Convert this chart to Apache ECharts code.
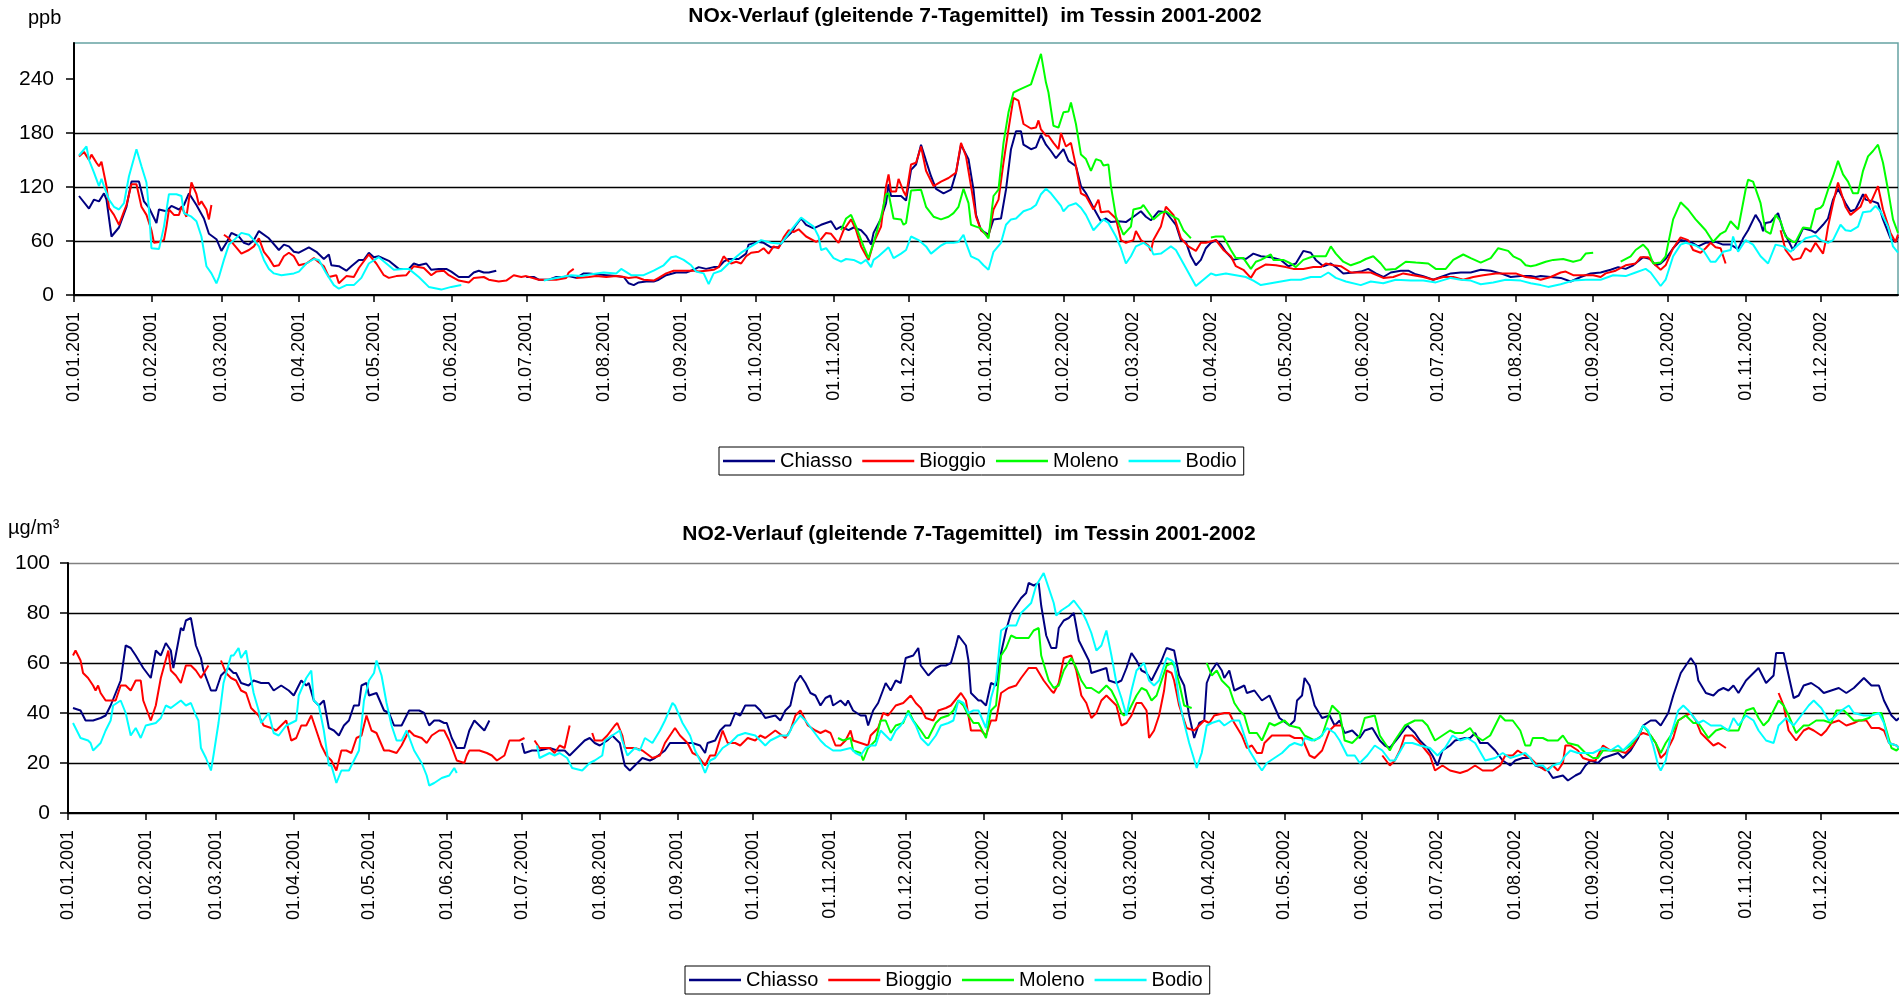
<!DOCTYPE html>
<html>
<head>
<meta charset="utf-8">
<title>NOx / NO2 Tessin 2001-2002</title>
<script src="https://cdn.jsdelivr.net/npm/echarts@6/dist/echarts.min.js"></script>
<style>
  html, body { margin: 0; padding: 0; background: #fff; }
  #chart { width: 1899px; height: 996px; }
</style>
</head>
<body>
<div id="chart"></div>
<script>
const stations = ['Chiasso', 'Bioggio', 'Moleno', 'Bodio'];
const stationColors = ['#000080', '#ff0000', '#00ff00', '#00ffff'];

// [day since 01.01.2001, value]; value null = gap in the record
const noxChiasso = [[2,110],[6,96],[8,106],[10,104],[12,113],[13,106],[15,65],[18,75],[21,98],[23,126],[26,126],[28,104],[30,97],[33,80],[34,95],[37,93],[39,99],[42,95],[44,100],[46,113],[49,100],[52,85],[54,68],[57,62],[59,49],[61,58],[63,69],[66,65],[68,58],[70,56],[72,61],[74,71],[78,63],[82,50],[84,56],[86,54],[88,48],[90,47],[94,53],[97,48],[100,40],[102,45],[103,33],[106,32],[109,27],[111,32],[114,39],[116,39],[118,47],[120,42],[122,43],[126,38],[130,29],[134,29],[136,35],[138,33],[141,35],[143,28],[146,29],[149,29],[151,26],[154,20],[158,20],[160,25],[162,27],[164,25],[166,25],[169,27],[175,null],[181,20],[184,20],[186,17],[190,17],[193,20],[196,20],[198,21],[201,19],[204,24],[206,24],[209,23],[213,22],[217,21],[220,20],[222,13],[224,11],[226,14],[229,15],[232,15],[234,17],[237,22],[241,25],[245,25],[248,28],[250,31],[253,29],[256,31],[258,31],[260,37],[262,40],[266,40],[269,46],[270,56],[274,59],[276,58],[279,53],[282,53],[284,61],[287,69],[289,78],[291,85],[293,78],[296,74],[299,78],[303,82],[305,73],[307,76],[310,72],[312,75],[315,72],[317,66],[319,56],[320,69],[323,85],[325,102],[326,123],[327,110],[331,110],[333,105],[335,139],[337,145],[339,167],[341,149],[343,132],[345,118],[348,113],[351,117],[353,136],[355,167],[358,151],[360,117],[361,89],[363,72],[366,67],[368,84],[371,85],[373,117],[375,162],[377,182],[379,182],[380,167],[383,162],[385,164],[387,178],[389,167],[391,160],[393,152],[396,162],[398,149],[401,143],[403,121],[405,113],[408,97],[411,82],[413,85],[415,81],[418,82],[421,81],[424,87],[427,93],[429,87],[431,83],[434,93],[437,92],[439,85],[441,78],[443,61],[445,59],[447,43],[449,33],[451,39],[453,52],[455,58],[457,61],[459,56],[461,48],[464,39],[467,41],[469,40],[472,46],[475,43],[479,42],[483,39],[486,32],[489,35],[492,49],[495,47],[497,39],[500,32],[503,35],[505,31],[508,24],[512,25],[515,26],[518,29],[521,24],[524,20],[527,25],[531,27],[534,27],[537,23],[540,21],[544,17],[547,20],[551,24],[555,25],[559,25],[563,28],[567,27],[571,24],[575,20],[579,21],[583,21],[585,20],[587,21],[591,20],[595,19],[599,15],[603,20],[607,24],[611,25],[615,28],[618,31],[621,29],[624,33],[628,42],[631,40],[633,33],[635,35],[637,40],[640,52],[643,61],[647,59],[650,54],[653,58],[657,59],[660,56],[663,56],[666,51],[668,63],[670,72],[673,89],[675,80],[676,71],[677,80],[679,81],[682,91],[684,72],[686,61],[688,50],[689,56],[692,74],[695,72],[697,69],[700,78],[702,85],[704,106],[706,118],[709,102],[711,93],[713,95],[716,112],[717,106],[720,104],[722,102],[724,84],[727,63],[729,59],[730,65]];
const noxBioggio = [[2,154],[4,159],[6,150],[7,156],[9,147],[10,143],[11,148],[13,121],[14,97],[16,89],[18,78],[20,93],[21,100],[23,123],[25,123],[27,98],[29,89],[31,72],[32,58],[34,59],[36,61],[37,76],[38,95],[40,89],[42,89],[43,98],[45,87],[47,125],[49,112],[50,100],[51,104],[53,95],[54,84],[55,100],[57,null],[60,67],[62,63],[64,56],[67,46],[70,50],[72,54],[74,63],[76,48],[78,41],[80,32],[82,33],[84,43],[86,47],[88,43],[90,33],[93,35],[96,41],[100,32],[102,20],[105,22],[106,13],[109,21],[112,20],[114,30],[118,45],[121,35],[124,22],[126,19],[129,21],[133,22],[136,32],[140,30],[143,22],[145,26],[148,27],[150,22],[154,16],[158,14],[160,19],[164,20],[166,17],[170,15],[173,16],[176,22],[179,20],[181,21],[186,17],[193,17],[197,19],[198,25],[200,29],[200.5,null],[201,19],[206,20],[209,21],[213,20],[217,21],[220,20],[222,19],[225,20],[228,17],[232,16],[234,19],[237,24],[240,27],[244,27],[248,27],[250,26],[253,27],[256,28],[258,31],[260,43],[261,40],[263,35],[265,37],[267,35],[269,43],[271,47],[274,48],[276,52],[278,46],[280,54],[282,52],[284,64],[286,72],[288,70],[290,73],[293,65],[297,59],[299,62],[301,69],[303,68],[305,61],[306,58],[308,72],[311,84],[313,72],[315,54],[318,39],[320,58],[323,76],[325,121],[326,134],[327,115],[329,115],[330,129],[332,115],[333,110],[335,145],[337,147],[339,165],[341,138],[344,121],[347,126],[350,130],[353,136],[355,169],[357,154],[359,121],[361,87],[363,72],[366,65],[368,95],[370,106],[372,147],[374,184],[376,219],[378,216],[380,190],[383,185],[385,186],[386,194],[387,184],[389,177],[390,177],[392,169],[394,162],[395,180],[397,165],[399,169],[401,143],[403,113],[405,110],[408,95],[410,106],[411,92],[414,93],[417,85],[419,61],[421,58],[424,61],[425,71],[427,61],[430,55],[431,49],[432,61],[435,76],[437,98],[440,89],[441,81],[443,63],[446,54],[449,49],[451,58],[453,58],[457,61],[460,50],[463,43],[465,32],[468,28],[471,19],[473,28],[477,34],[481,33],[485,31],[488,29],[492,29],[496,31],[499,31],[501,35],[504,33],[507,32],[511,25],[519,25],[524,19],[528,20],[532,24],[536,22],[540,20],[544,17],[548,20],[552,20],[556,17],[560,20],[564,22],[569,24],[573,24],[577,24],[581,20],[584,19],[587,17],[591,20],[595,25],[597,26],[600,22],[604,22],[608,22],[611,20],[613,24],[617,27],[621,33],[625,35],[627,42],[630,42],[633,33],[635,28],[637,33],[640,52],[643,64],[646,61],[648,50],[651,47],[653,52],[655,58],[657,53],[659,52],[661,35],[670,null],[683,72],[685,50],[688,39],[691,41],[693,52],[695,48],[697,58],[700,46],[701,59],[702,76],[704,102],[706,125],[709,98],[711,89],[715,98],[717,112],[719,102],[722,121],[724,95],[727,69],[729,59],[730,67]];
const noxMoleno = [[307,72],[309,85],[311,89],[313,76],[316,54],[318,41],[320,58],[323,87],[325,112],[326,113],[328,85],[331,84],[332,78],[333,80],[335,116],[339,117],[341,98],[344,87],[347,84],[350,87],[352,91],[354,98],[356,118],[358,102],[359,78],[361,76],[363,74],[366,63],[368,110],[370,117],[372,169],[374,203],[376,225],[379,229],[383,234],[385,251],[387,268],[389,236],[390,225],[392,188],[394,186],[396,203],[398,204],[399,214],[401,190],[403,156],[405,151],[407,138],[409,151],[411,149],[412,144],[414,145],[415,121],[417,87],[420,67],[423,76],[424,95],[427,97],[428,100],[430,92],[432,84],[435,91],[437,93],[440,87],[442,84],[444,72],[446,66],[447,63],[451,null],[455,64],[457,65],[460,65],[463,50],[465,41],[468,41],[471,29],[473,37],[475,39],[479,45],[480,39],[484,39],[487,35],[489,31],[492,39],[496,43],[501,43],[503,54],[505,46],[508,37],[511,33],[515,37],[517,40],[520,43],[523,35],[525,28],[529,29],[533,37],[537,36],[542,35],[545,29],[549,29],[552,39],[556,45],[559,41],[563,36],[567,41],[570,52],[574,49],[576,43],[579,39],[581,33],[583,32],[585,33],[589,37],[592,39],[596,40],[600,37],[603,39],[605,46],[608,47],[614,null],[619,37],[623,43],[625,50],[628,56],[630,50],[632,35],[635,36],[637,43],[640,84],[643,103],[646,95],[649,84],[651,78],[653,72],[656,59],[659,68],[661,71],[663,82],[666,73],[669,117],[670,128],[672,126],[675,102],[677,71],[679,68],[681,89],[683,82],[685,65],[688,59],[689,59],[692,75],[695,74],[697,95],[699,97],[700,100],[702,117],[704,132],[706,149],[708,134],[710,126],[712,113],[714,113],[716,138],[718,154],[720,160],[722,167],[724,147],[726,117],[728,84],[730,69]];
const noxBodio = [[2,155],[5,165],[6,150],[8,136],[10,121],[11,129],[12,121],[14,106],[16,98],[18,95],[20,102],[22,132],[25,162],[27,143],[29,125],[30,95],[31,52],[34,51],[36,76],[38,112],[41,112],[43,110],[44,91],[47,87],[49,82],[51,65],[53,32],[55,24],[57,13],[58,20],[60,39],[62,56],[64,61],[67,69],[70,67],[72,61],[74,54],[76,39],[78,29],[80,24],[83,22],[88,24],[90,26],[93,35],[96,40],[98,39],[101,24],[104,11],[106,7],[109,11],[112,11],[115,19],[118,35],[122,42],[125,35],[128,28],[132,29],[134,29],[138,20],[142,9],[147,6],[151,9],[155,11],[170,null],[188,16],[193,19],[199,22],[203,21],[207,23],[212,25],[217,24],[219,29],[223,22],[228,22],[232,27],[236,33],[239,42],[241,43],[244,39],[247,33],[249,26],[252,24],[254,12],[256,24],[259,27],[262,35],[264,40],[267,47],[271,54],[275,61],[279,58],[283,57],[287,72],[291,86],[293,82],[296,76],[298,65],[299,50],[301,52],[304,41],[307,37],[309,40],[312,39],[315,35],[317,39],[319,31],[320,39],[322,43],[324,48],[326,53],[328,41],[331,46],[333,50],[335,65],[338,61],[341,54],[343,46],[347,55],[349,58],[352,58],[354,59],[356,67],[357,58],[359,43],[362,39],[364,33],[366,28],[368,48],[371,58],[373,78],[375,84],[377,85],[380,93],[383,96],[385,100],[387,112],[389,118],[391,113],[393,106],[395,99],[396,93],[398,99],[401,102],[403,97],[405,89],[408,72],[410,78],[412,84],[414,80],[417,65],[419,52],[421,35],[423,43],[425,54],[428,58],[431,52],[432,45],[435,46],[437,50],[439,54],[441,50],[444,35],[447,20],[449,10],[452,17],[455,24],[457,22],[461,24],[465,22],[469,20],[472,16],[475,11],[479,13],[483,15],[487,17],[491,17],[495,20],[499,20],[502,25],[505,19],[509,15],[515,11],[519,15],[524,13],[529,17],[535,16],[540,16],[545,14],[551,19],[555,17],[559,16],[563,12],[568,14],[573,17],[579,16],[583,13],[587,11],[590,9],[595,12],[600,16],[605,17],[611,17],[616,22],[621,21],[625,25],[629,29],[631,25],[635,10],[637,17],[640,43],[643,56],[645,58],[649,55],[652,50],[655,37],[657,37],[660,48],[663,50],[664,65],[666,48],[669,61],[672,56],[675,43],[678,35],[681,56],[684,54],[687,48],[689,53],[693,63],[697,66],[699,61],[702,58],[704,61],[707,78],[709,72],[711,71],[714,76],[716,92],[719,93],[721,99],[723,93],[726,76],[728,54],[730,47]];

const no2Chiasso = [[2,42],[5,41],[7,37],[10,37],[13,38],[15,39],[17,43],[19,48],[21,53],[23,67],[25,66],[27,63],[30,58],[33,54],[35,65],[37,63],[39,68],[41,65],[42,58],[45,74],[46,73],[47,77],[49,78],[51,67],[53,62],[54,57],[57,49],[59,49],[61,55],[64,58],[66,56],[67,56],[69,52],[72,51],[74,53],[77,52],[80,52],[82,49],[85,51],[88,49],[90,47],[93,53],[95,51],[96,52],[98,45],[100,43],[102,45],[104,34],[106,33],[108,31],[110,35],[112,37],[114,43],[116,43],[117,51],[119,52],[120,47],[123,48],[126,41],[128,40],[130,35],[133,35],[136,41],[140,41],[142,40],[144,35],[146,37],[148,37],[150,36],[151,36],[153,30],[155,26],[158,26],[160,33],[162,37],[164,35],[166,33],[168,37],[174,null],[181,28],[182,24],[185,25],[188,25],[192,26],[195,25],[198,25],[200,23],[203,26],[206,29],[208,30],[210,28],[212,27],[215,29],[217,31],[220,28],[222,19],[224,17],[226,19],[229,22],[232,21],[234,22],[238,25],[240,28],[244,28],[246,28],[249,28],[252,27],[254,24],[255,28],[258,29],[260,33],[262,35],[264,35],[266,40],[268,39],[270,43],[274,43],[276,41],[278,38],[282,39],[284,37],[286,41],[288,43],[290,52],[292,55],[294,52],[296,48],[298,47],[300,43],[302,46],[304,47],[305,43],[308,45],[310,43],[311,45],[313,41],[316,39],[318,39],[319,35],[321,41],[323,44],[326,52],[328,49],[330,53],[332,52],[334,62],[337,63],[339,66],[340,59],[343,55],[346,58],[348,59],[350,59],[352,60],[354,67],[355,71],[358,67],[359,61],[360,48],[363,45],[364,45],[366,43],[368,52],[370,51],[372,64],[374,73],[376,80],[378,83],[380,86],[382,88],[383,92],[385,91],[387,92],[388,83],[390,71],[392,66],[394,66],[395,74],[397,77],[399,78],[401,80],[403,69],[405,65],[407,61],[408,56],[411,57],[414,58],[415,53],[418,52],[420,53],[422,58],[424,64],[426,61],[428,57],[430,56],[432,53],[434,57],[436,61],[438,66],[441,65],[443,55],[445,51],[447,39],[449,30],[451,36],[453,37],[454,52],[456,57],[458,60],[460,57],[461,54],[463,57],[465,49],[469,51],[470,48],[473,49],[476,45],[479,47],[483,38],[487,35],[489,37],[490,45],[492,47],[493,54],[495,51],[497,43],[500,38],[503,39],[505,35],[507,37],[509,32],[512,33],[515,30],[517,33],[520,34],[523,29],[525,27],[527,26],[531,31],[534,35],[537,32],[539,29],[542,26],[544,23],[546,19],[548,25],[551,27],[553,29],[557,30],[559,30],[561,32],[563,28],[566,28],[569,25],[572,21],[575,19],[577,21],[580,22],[583,22],[585,19],[588,18],[590,17],[592,14],[596,15],[598,13],[601,15],[603,16],[605,19],[607,21],[610,20],[612,22],[615,23],[618,24],[620,22],[623,25],[626,30],[628,35],[631,37],[633,37],[635,35],[638,40],[640,47],[643,56],[645,59],[647,62],[649,59],[650,53],[653,48],[656,47],[658,49],[660,50],[662,49],[664,51],[666,48],[669,53],[672,56],[674,58],[675,56],[677,52],[680,55],[681,64],[684,64],[686,55],[688,46],[690,47],[692,51],[695,52],[698,50],[700,48],[703,49],[706,50],[709,48],[712,50],[714,52],[716,54],[719,51],[722,51],[724,45],[727,39],[729,37],[730,38]];
const no2Bioggio = [[2,63],[3,65],[5,61],[6,56],[8,54],[10,51],[11,49],[12,51],[13,48],[15,45],[17,45],[19,45],[21,51],[23,51],[25,49],[27,53],[29,53],[30,45],[33,37],[35,43],[37,54],[40,65],[41,57],[43,55],[45,52],[47,59],[49,59],[51,57],[53,54],[56,59],[58,null],[61,61],[63,56],[65,54],[67,53],[68,51],[69,49],[71,48],[73,42],[76,39],[78,35],[81,34],[83,33],[85,35],[87,37],[89,29],[91,30],[93,35],[95,35],[97,39],[99,33],[101,27],[103,23],[105,21],[107,17],[109,25],[111,25],[113,24],[115,30],[117,31],[119,39],[121,33],[123,32],[126,25],[128,25],[131,24],[133,27],[136,33],[138,31],[141,30],[143,28],[145,31],[148,33],[150,33],[152,29],[155,21],[158,20],[159,23],[160,25],[162,25],[164,25],[167,24],[169,23],[171,21],[174,23],[176,29],[178,29],[180,29],[182,30],[184,null],[186,29],[188,26],[192,26],[194,24],[196,27],[198,26],[200,35],[204,null],[209,32],[210,29],[213,29],[215,31],[218,35],[219,36],[221,31],[222,26],[226,26],[229,25],[233,22],[236,23],[238,28],[242,34],[244,31],[247,28],[249,24],[251,23],[254,19],[256,23],[258,23],[261,33],[263,28],[266,28],[268,27],[271,30],[274,29],[276,31],[278,30],[282,33],[286,30],[288,33],[290,39],[292,41],[295,35],[298,33],[300,32],[302,33],[304,32],[306,27],[308,27],[310,29],[312,33],[313,29],[316,28],[319,27],[320,31],[323,34],[325,40],[327,39],[330,43],[333,44],[336,47],[338,44],[340,42],[342,38],[345,37],[347,41],[350,42],[352,43],[356,48],[358,45],[360,33],[362,33],[364,33],[366,31],[368,37],[370,37],[372,48],[375,50],[378,51],[380,54],[383,58],[386,58],[389,53],[392,49],[393,48],[395,52],[397,62],[400,63],[402,57],[404,47],[406,44],[408,38],[410,40],[412,45],[414,47],[416,45],[418,43],[420,35],[422,36],[424,39],[426,44],[428,44],[430,41],[431,30],[433,33],[435,39],[437,49],[438,57],[440,56],[441,53],[443,43],[446,34],[449,33],[451,35],[453,37],[455,36],[457,39],[461,40],[463,40],[465,36],[468,31],[470,26],[472,27],[474,24],[476,24],[477,28],[480,31],[483,31],[487,31],[489,30],[492,30],[495,23],[497,22],[500,25],[503,33],[505,35],[508,35],[516,null],[524,23],[527,19],[529,21],[531,25],[533,31],[536,31],[539,28],[543,23],[545,17],[548,19],[551,17],[555,16],[558,17],[561,19],[564,17],[568,17],[571,19],[573,23],[576,23],[578,25],[581,23],[583,22],[586,19],[589,17],[592,19],[594,17],[596,20],[597,27],[599,27],[602,25],[604,22],[607,21],[609,21],[612,27],[615,25],[618,25],[621,24],[624,27],[626,31],[628,32],[631,31],[633,28],[635,22],[637,24],[640,30],[642,37],[645,39],[647,40],[649,37],[651,32],[654,29],[656,27],[658,28],[661,26],[670,null],[682,48],[684,43],[686,33],[689,29],[692,33],[694,34],[696,33],[699,31],[701,33],[703,36],[706,37],[709,35],[712,36],[714,37],[717,37],[719,34],[722,34],[724,33],[726,28],[729,27],[730,26]];
const no2Moleno = [[307,30],[309,29],[312,30],[313,25],[316,24],[317,21],[319,26],[322,29],[324,37],[326,37],[328,32],[330,35],[333,36],[335,41],[337,37],[340,33],[342,30],[343,30],[346,36],[348,38],[351,39],[353,41],[355,45],[357,43],[359,39],[361,36],[363,36],[366,30],[368,41],[370,43],[372,63],[374,66],[376,71],[378,70],[380,70],[383,70],[385,73],[387,74],[388,63],[391,53],[393,50],[395,51],[397,57],[400,62],[402,58],[404,53],[406,50],[408,50],[411,48],[414,51],[416,49],[418,45],[420,40],[421,39],[423,41],[426,47],[428,50],[430,49],[432,45],[434,47],[436,53],[438,59],[440,60],[441,59],[443,52],[445,43],[448,42],[451,null],[454,60],[456,55],[458,57],[460,53],[463,50],[465,44],[467,41],[469,39],[471,32],[474,32],[476,29],[479,36],[481,35],[485,37],[487,35],[491,34],[493,31],[497,29],[500,31],[502,37],[504,43],[507,40],[509,29],[512,28],[515,31],[517,38],[521,39],[523,31],[527,25],[529,29],[533,35],[537,37],[540,37],[542,35],[545,29],[548,31],[551,33],[553,32],[556,32],[559,34],[561,31],[564,29],[567,31],[569,35],[571,39],[573,37],[576,37],[579,33],[581,27],[583,27],[584,30],[588,30],[590,29],[592,29],[594,29],[596,31],[598,28],[602,27],[605,24],[608,22],[610,22],[612,25],[615,25],[618,25],[620,25],[623,27],[626,31],[628,35],[631,31],[633,28],[635,24],[637,28],[639,31],[642,37],[645,39],[648,36],[650,36],[652,33],[654,30],[657,33],[660,34],[662,33],[664,33],[666,33],[669,41],[672,42],[674,38],[676,35],[678,37],[682,45],[684,43],[686,39],[689,32],[692,35],[694,35],[697,37],[700,37],[703,36],[705,41],[708,41],[710,39],[712,37],[715,37],[718,38],[720,40],[723,40],[725,33],[727,26],[729,25],[730,26]];
const no2Bodio = [[2,36],[5,30],[8,29],[9,28],[10,25],[13,28],[15,33],[17,37],[18,43],[21,45],[23,40],[25,31],[27,34],[29,30],[31,35],[35,36],[37,38],[39,43],[41,42],[45,45],[47,43],[49,44],[51,39],[52,37],[53,26],[55,22],[57,17],[58,23],[60,36],[62,52],[65,63],[66,63],[68,66],[69,62],[71,65],[72,59],[74,48],[76,41],[77,36],[80,40],[82,32],[84,31],[87,35],[89,36],[91,37],[92,47],[95,54],[97,57],[98,45],[100,43],[102,33],[104,19],[105,19],[107,12],[109,17],[112,17],[114,21],[116,25],[118,45],[120,53],[122,56],[123,61],[125,55],[127,44],[129,35],[131,29],[133,29],[135,33],[138,25],[141,20],[143,15],[144,11],[146,12],[149,14],[152,15],[154,18],[155,16],[170,null],[187,27],[188,22],[192,24],[194,23],[196,24],[199,22],[201,18],[205,17],[208,20],[210,21],[213,23],[214,29],[217,31],[220,33],[221,29],[223,23],[226,26],[228,25],[230,30],[233,28],[236,33],[238,37],[241,44],[242,43],[245,36],[248,31],[250,25],[252,21],[254,16],[256,21],[258,22],[261,26],[264,28],[267,31],[270,32],[274,31],[278,27],[280,29],[284,31],[287,31],[289,35],[292,39],[294,37],[297,33],[300,29],[302,27],[305,25],[308,25],[312,26],[314,24],[316,23],[318,26],[320,27],[322,27],[324,33],[328,29],[330,33],[332,35],[335,40],[338,35],[340,30],[343,27],[346,31],[348,35],[351,36],[353,37],[355,45],[357,44],[359,40],[361,41],[363,41],[366,34],[368,46],[370,53],[372,73],[375,75],[378,75],[380,80],[382,82],[384,84],[386,91],[389,96],[391,90],[393,84],[394,79],[396,81],[399,83],[401,85],[404,81],[406,77],[408,72],[410,65],[412,67],[414,73],[416,63],[418,52],[420,46],[422,39],[424,49],[426,57],[429,60],[431,53],[433,51],[435,53],[438,62],[440,61],[441,60],[443,45],[445,36],[447,28],[450,18],[451,21],[452,24],[454,35],[456,36],[459,37],[461,35],[464,37],[467,37],[469,31],[471,25],[474,20],[476,17],[478,20],[481,22],[484,24],[487,27],[489,28],[492,27],[493,30],[496,29],[499,30],[502,34],[505,32],[507,29],[510,23],[513,23],[515,20],[518,23],[521,27],[524,25],[527,21],[529,21],[533,28],[536,28],[539,27],[543,26],[546,23],[549,26],[552,31],[555,29],[558,30],[561,28],[565,21],[569,22],[572,24],[575,22],[578,23],[581,24],[583,22],[585,19],[588,19],[590,17],[592,19],[595,20],[597,23],[599,25],[602,24],[606,24],[608,24],[612,26],[615,25],[618,27],[620,25],[623,28],[626,31],[628,35],[630,33],[632,27],[634,19],[635,17],[637,21],[639,31],[642,41],[644,43],[646,41],[650,36],[652,37],[655,35],[659,35],[662,33],[664,38],[666,35],[669,39],[672,37],[674,33],[677,29],[680,28],[682,35],[685,38],[688,35],[691,39],[694,43],[696,45],[699,42],[702,37],[704,38],[707,41],[710,43],[712,40],[716,39],[719,39],[722,40],[724,36],[726,28],[729,27],[730,26]];

const noxTicks = [0, 60, 120, 180, 240];
const no2Ticks = [0, 20, 40, 60, 80, 100];

const FONT = '"Liberation Sans", Arial, sans-serif';
const NARROW = '"Liberation Sans Narrow", "Arial Narrow", "Liberation Sans", sans-serif';
const DAY = 864e5;
const t0 = Date.UTC(2001, 0, 1);
// day index of every first of the month, 2001-2002
const monthStarts = [];
for (let y = 2001; y <= 2002; y++) {
  for (let m = 0; m < 12; m++) monthStarts.push((Date.UTC(y, m, 1) - t0) / DAY);
}
const pad = n => (n < 10 ? '0' : '') + n;
const dayLabel = d => {
  const t = new Date(t0 + Math.round(d) * DAY);
  return pad(t.getUTCDate()) + '.' + pad(t.getUTCMonth() + 1) + '.' + t.getUTCFullYear();
};

const xAxisFor = gridIndex => ({
  type: 'value', gridIndex, min: 0, max: 730,
  axisLine: { onZero: false, lineStyle: { color: '#000', width: 2 } },
  axisTick: { customValues: monthStarts, length: 7, lineStyle: { color: '#000', width: 1.5 } },
  axisLabel: { customValues: monthStarts, rotate: 90, margin: 17, formatter: dayLabel,
    color: '#000', fontSize: 18, fontFamily: NARROW },
  splitLine: { show: false }
});

const yAxisFor = (gridIndex, max, interval, ticks, splitColors, margin) => ({
  type: 'value', gridIndex, min: 0, max, interval,
  axisLine: { show: true, lineStyle: { color: '#000', width: 2 } },
  axisTick: { show: true, customValues: ticks, length: 8, lineStyle: { color: '#000', width: 1.5 } },
  axisLabel: { customValues: ticks, margin, color: '#000', fontSize: 21, fontFamily: FONT },
  splitLine: { show: true, showMaxLine: max === ticks[ticks.length - 1], lineStyle: { color: splitColors, width: 1.4 } }
});

const asData = pts => pts.map(p => [p[0], p[1] == null ? '-' : p[1]]);
const lineSeries = (name, pts, idx) => {
  const color = stationColors[stations.indexOf(name)];
  return {
    name, type: 'line', xAxisIndex: idx, yAxisIndex: idx, data: asData(pts),
    symbol: 'none', showSymbol: false, connectNulls: false,
    lineStyle: { color, width: 2 }, itemStyle: { color }
  };
};

const legendAt = (left, top) => ({
  data: stations, left, top, orient: 'horizontal', selectedMode: false,
  icon: 'rect', itemWidth: 52, itemHeight: 2.5, itemGap: 10,
  borderColor: '#000', borderWidth: 1, padding: [4, 7, 4, 4],
  textStyle: { fontSize: 20, color: '#000', fontFamily: FONT }
});

const textAt = (x, y, text, font, align) => ({
  type: 'text', x, y,
  style: { text, font, fill: '#000', align, textAlign: align, verticalAlign: 'middle', textVerticalAlign: 'middle' }
});

const chart = echarts.init(document.getElementById('chart'), null, { renderer: 'canvas' });
chart.setOption({
  animation: false,
  backgroundColor: '#fff',
  grid: [
    { left: 74, top: 43, right: 1, height: 252, show: true, borderColor: '#66a3a3', borderWidth: 1.5, outerBoundsMode: 'none' },
    { left: 68, top: 563, right: 0, height: 250, outerBoundsMode: 'none' }
  ],
  xAxis: [xAxisFor(0), xAxisFor(1)],
  yAxis: [
    yAxisFor(0, 280, 60, noxTicks, '#000', 20),
    yAxisFor(1, 100, 20, no2Ticks, ['#000', '#000', '#000', '#000', '#000', '#808080'], 18)
  ],
  legend: [legendAt(719, 447), legendAt(685, 966)],
  graphic: [
    textAt(975, 16, 'NOx-Verlauf (gleitende 7-Tagemittel)  im Tessin 2001-2002', 'bold 21px ' + FONT, 'center'),
    textAt(28, 18, 'ppb', '20px ' + FONT, 'left'),
    textAt(969, 534, 'NO2-Verlauf (gleitende 7-Tagemittel)  im Tessin 2001-2002', 'bold 21px ' + FONT, 'center'),
    textAt(8, 528, 'µg/m³', '20px ' + FONT, 'left')
  ],
  series: [
    lineSeries('Chiasso', noxChiasso, 0),
    lineSeries('Bioggio', noxBioggio, 0),
    lineSeries('Moleno', noxMoleno, 0),
    lineSeries('Bodio', noxBodio, 0),
    lineSeries('Chiasso', no2Chiasso, 1),
    lineSeries('Bioggio', no2Bioggio, 1),
    lineSeries('Moleno', no2Moleno, 1),
    lineSeries('Bodio', no2Bodio, 1)
  ]
});
window.addEventListener('resize', () => chart.resize());
</script>
</body>
</html>
